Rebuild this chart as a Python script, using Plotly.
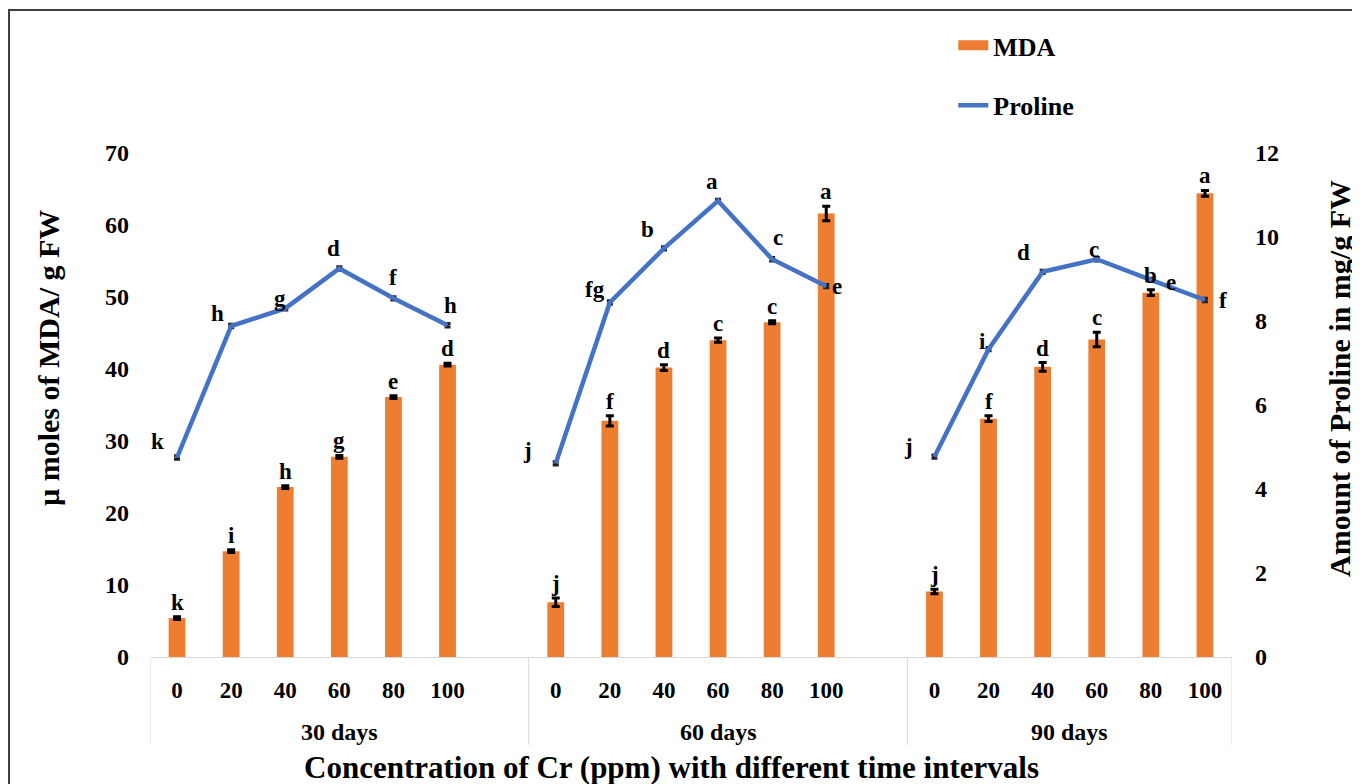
import plotly.graph_objects as go

# ---------------- data ----------------
periods = ["30 days", "60 days", "90 days"]
cr_levels = ["0", "20", "40", "60", "80", "100"]

mda_30 = [5.4, 14.7, 23.6, 27.8, 36.1, 40.6]
mda_60 = [7.6, 32.8, 40.2, 44.0, 46.5, 61.6]
mda_90 = [9.1, 33.1, 40.3, 44.1, 50.6, 64.4]
mda_err_30 = [0.2, 0.2, 0.2, 0.2, 0.2, 0.2]
mda_err_60 = [0.6, 0.7, 0.4, 0.3, 0.2, 1.0]
mda_err_90 = [0.3, 0.4, 0.6, 1.0, 0.4, 0.4]
mda_letters_30 = ["k", "i", "h", "g", "e", "d"]
mda_letters_60 = ["j", "f", "d", "c", "c", "a"]
mda_letters_90 = ["j", "f", "d", "c", "b", "a"]

pro_30 = [4.75, 7.88, 8.30, 9.25, 8.54, 7.90]
pro_60 = [4.61, 8.44, 9.73, 10.86, 9.47, 8.83]
pro_90 = [4.77, 7.33, 9.17, 9.47, 8.98, 8.50]
pro_err = [0.04] * 6
pro_letters_30 = ["k", "h", "g", "d", "f", "h"]
pro_letters_60 = ["j", "fg", "b", "a", "c", "e"]
pro_letters_90 = ["j", "i", "d", "c", "e", "f"]

# label pixel offsets (style) for proline letters: (dx, dy-up)
pro_offsets = [
    [(-20, 16), (-14, 13), (-5, 10), (-6, 20), (0, 21), (3, 20)],
    [(-28, 13), (-15, 13), (-16, 19), (-6, 19), (6, 22), (11, 0)],
    [(-26, 10), (-6, 8), (-19, 19), (-3, 10), (20, -3), (18, 0)],
]

# ---------------- build category positions ----------------
mda_groups = [mda_30, mda_60, mda_90]
mda_err_groups = [mda_err_30, mda_err_60, mda_err_90]
pro_groups = [pro_30, pro_60, pro_90]
mda_letter_groups = [mda_letters_30, mda_letters_60, mda_letters_90]
pro_letter_groups = [pro_letters_30, pro_letters_60, pro_letters_90]

xs, labels, mda_y, mda_e, pro_y, pro_e = [], [], [], [], [], []
group_spans = []
pos = 0
for gi, p in enumerate(periods):
    start = pos
    for li, lv in enumerate(cr_levels):
        xs.append(pos); labels.append(lv)
        mda_y.append(mda_groups[gi][li]); mda_e.append(mda_err_groups[gi][li])
        pro_y.append(pro_groups[gi][li]); pro_e.append(pro_err[li])
        pos += 1
    if gi < len(periods) - 1:
        # empty separator slot
        xs.append(pos); labels.append("")
        mda_y.append(None); mda_e.append(None)
        pro_y.append(None); pro_e.append(None)
        pos += 1
    group_spans.append((start - 0.5, pos - 0.5))
n_slots = pos

FONT = "Liberation Serif"
ORANGE = "#ED7D31"
BLUE = "#4472C4"

fig = go.Figure()
fig.add_trace(go.Bar(
    x=xs, y=mda_y, name="MDA", marker_color=ORANGE, marker_line_width=0,
    error_y=dict(type="data", array=mda_e, color="black", thickness=3, width=4),
    showlegend=False,
))
# legend entry for MDA (wide swatch like the reference)
fig.add_trace(go.Scatter(
    x=[xs[0]], y=[None], name="MDA", mode="lines",
    line=dict(color=ORANGE, width=10), legendgroup="a", hoverinfo="skip",
))
fig.add_trace(go.Scatter(
    x=xs, y=pro_y, name="Proline", yaxis="y2", mode="lines",
    line=dict(color=BLUE, width=4.5),
    error_y=dict(type="data", array=pro_e, color="#1F1F1F", thickness=3, width=3),
    connectgaps=False, legendgroup="b",
))

letter_font = dict(family=FONT, size=23, color="black", weight="bold")
ann = []
for gi in range(3):
    base = int(group_spans[gi][0] + 0.5)
    for li in range(6):
        idx = base + li
        ann.append(dict(
            x=idx, y=mda_groups[gi][li] + mda_err_groups[gi][li], xref="x", yref="y",
            text=mda_letter_groups[gi][li], showarrow=False,
            xanchor="center", yanchor="bottom", yshift=0, font=letter_font,
        ))
        dx, dy = pro_offsets[gi][li]
        ann.append(dict(
            x=idx, y=pro_groups[gi][li], xref="x", yref="y2",
            text=pro_letter_groups[gi][li], showarrow=False,
            xanchor="center", yanchor="middle", xshift=dx, yshift=dy, font=letter_font,
        ))

xtick_font = dict(family=FONT, size=23, color="black", weight="bold")
ytick_font = dict(family=FONT, size=24, color="black", weight="bold")
group_font = dict(family=FONT, size=24, color="black", weight="bold")

# group labels and dividers
shapes = []
for gi, (a, b) in enumerate(group_spans):
    ann.append(dict(x=(a + b) / 2, y=-0.1488, xref="x", yref="paper",
                    text=periods[gi], showarrow=False,
                    xanchor="center", yanchor="middle", font=group_font))
    shapes.append(dict(type="line", xref="x", yref="paper", x0=a, x1=a,
                       y0=0, y1=-0.1746, line=dict(color="#D9D9D9", width=1)))
shapes.append(dict(type="line", xref="x", yref="paper",
                   x0=group_spans[-1][1], x1=group_spans[-1][1],
                   y0=0, y1=-0.1746, line=dict(color="#D9D9D9", width=1)))

title_font = dict(family=FONT, size=30, color="black", weight="bold")
ann.append(dict(x=-0.0943, y=0.593, xref="paper", yref="paper", textangle=-90,
                xanchor="center", yanchor="middle",
                text="µ moles of MDA/ g FW", showarrow=False, font=title_font))
ann.append(dict(x=1.0998, y=0.5536, xref="paper", yref="paper", textangle=-90,
                xanchor="center", yanchor="middle",
                text="Amount of Proline in mg/g FW", showarrow=False, font=title_font))
ann.append(dict(x=0.4824, y=-0.2202, xref="paper", yref="paper",
                xanchor="center", yanchor="middle",
                text="Concentration of Cr (ppm) with different time intervals",
                showarrow=False, font=dict(family=FONT, size=31, color="black", weight="bold")))

# outer chart border
shapes.append(dict(type="rect", xref="paper", yref="paper", x0=-0.1303, x1=1.3,
                   y0=-0.6, y1=1.2837, line=dict(color="#404040", width=2)))

# the page body adds an 8 px offset; size/margins compensate for it
fig.update_layout(
    width=1352, height=776,
    margin=dict(l=142, r=128, t=145, b=127, autoexpand=False),
    paper_bgcolor="white", plot_bgcolor="white",
    bargap=0.69,
    showlegend=True,
    legend=dict(x=0.7424, y=1.26, xanchor="left", yanchor="top",
                font=dict(family=FONT, size=26, color="black", weight="bold"),
                traceorder="grouped", tracegroupgap=23, itemwidth=30,
                bgcolor="rgba(0,0,0,0)"),
    xaxis=dict(range=[-0.5, n_slots - 0.5], tickvals=xs, ticktext=labels,
               showgrid=False, zeroline=False, automargin=False,
               showline=True, linecolor="#D9D9D9", linewidth=1,
               ticks="", tickfont=xtick_font, ticklabelstandoff=12),
    yaxis=dict(range=[0, 70], dtick=10, showgrid=False, zeroline=False, automargin=False,
               showline=False, ticks="", tickfont=ytick_font, ticklabelstandoff=20),
    yaxis2=dict(range=[0, 12], dtick=2, showgrid=False, zeroline=False, automargin=False,
                showline=False, ticks="", tickfont=ytick_font, overlaying="y",
                side="right", ticklabelstandoff=22),
    annotations=ann,
    shapes=shapes,
)

fig.write_html("out.html")
